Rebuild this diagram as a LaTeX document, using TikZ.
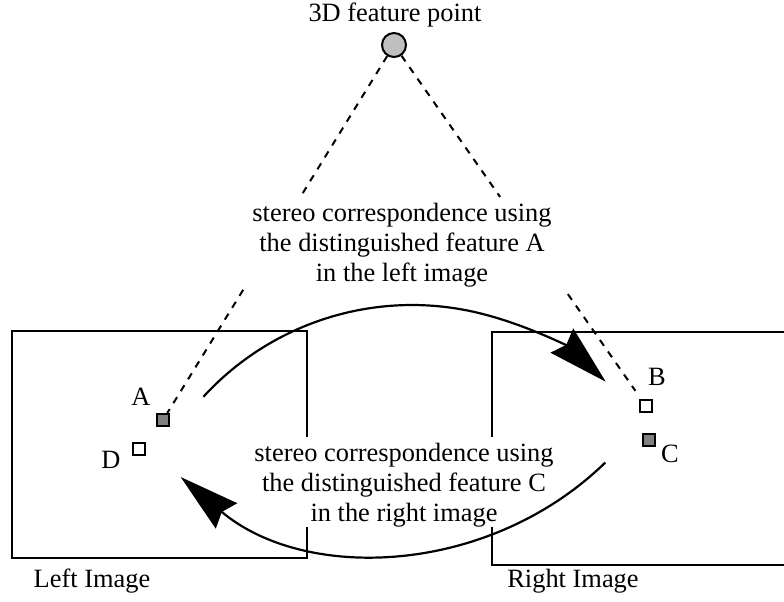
\documentclass[tikz,border=0pt]{standalone}
\usepackage{fontspec}
\setmainfont{Liberation Serif}
\usetikzlibrary{arrows.meta,calc}
\begin{document}
\begin{tikzpicture}[x=1pt,y=-1pt,
  txt/.style={font=\fontsize{26.4}{30}\selectfont, inner sep=0pt},
  frame/.style={draw, line width=2pt},
  feat/.style={draw, line width=2pt, minimum size=12pt, inner sep=0pt},
  proj/.style={line width=2pt, dash pattern=on 7pt off 7pt},
  corr/.style={line width=2.2pt, -{Stealth[length=60pt,width=33pt,inset=6pt]}}
]
\clip (0,0) rectangle (784,602);
% image frames (broken where the lower caption passes)
\draw[frame] (307,437) -- (307,331) -- (12,331) -- (12,558) -- (307,558) -- (307,527);
\draw[frame] (492,437) -- (492,332) -- (800,332);
\draw[frame] (800,565) -- (492,565) -- (492,527);
% 3D point and features
\node[draw, line width=2pt, circle, fill=black!25, minimum size=24pt, inner sep=0pt] (P) at (394,45) {};
\node[txt] (Pl) at (395,15) {3D feature point};
\node[feat, fill=black!50] (A) at (163,420) {};
\node[feat, fill=white] (D) at (139,449) {};
\node[feat, fill=white] (B) at (646,406) {};
\node[feat, fill=black!50] (C) at (649,440) {};
\node[txt] (Al) at (141,397) {A};
\node[txt] (Dl) at (111,460) {D};
\node[txt] (Bl) at (657,377) {B};
\node[txt] (Cl) at (670,454) {C};
\node[txt] (Ll) at (92,581) {Left Image};
\node[txt] (Rl) at (573,581) {Right Image};
% projection rays
\coordinate (l1) at ($(P)!0.408!(A)$);
\coordinate (l2) at ($(P)!0.653!(A)$);
\coordinate (r1) at ($(P)!0.421!(B)$);
\coordinate (r2) at ($(P)!0.69!(B)$);
\draw[proj] (P) -- (l1);
\draw[proj] (l2) -- (A);
\draw[proj] (P) -- (r1);
\draw[proj, shorten >=10pt] (r2) -- (B);
% correspondence arcs
\coordinate (c1) at (412,588);
\coordinate (c2) at (385,236);
\draw[corr] ($(c1)+(222.5:283)$) arc[start angle=222.5, end angle=313.2, radius=283];
\draw[corr] ($(c2)+(45.8:316)$) arc[start angle=45.8, end angle=130.3, radius=316];
% captions
\node[txt, align=center] (T1) at (402,245) {stereo correspondence using\\the distinguished feature A\\in the left image};
\node[txt, align=center] (T2) at (404,485) {stereo correspondence using\\the distinguished feature C\\in the right image};
\end{tikzpicture}
\end{document}
